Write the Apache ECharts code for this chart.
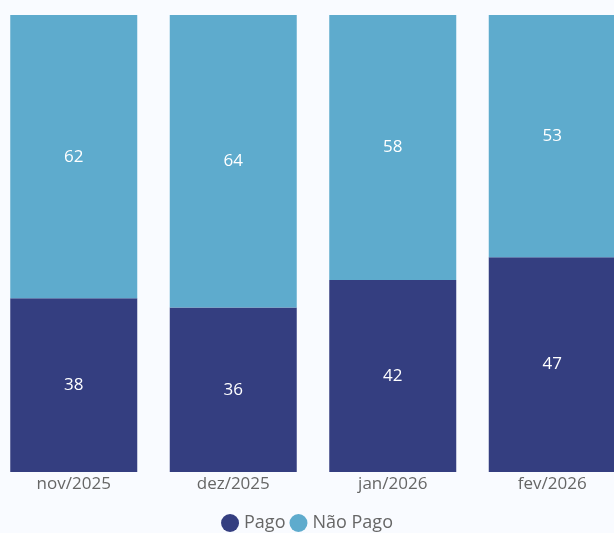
<!DOCTYPE html>
<html><head><meta charset="utf-8">
<script src="https://cdn.jsdelivr.net/npm/echarts@6/dist/echarts.min.js"></script>
<style>html,body{margin:0;padding:0;background:#f9fbff;}#c{width:614px;height:533px;}</style>
</head><body><div id="c"></div>
<script>
const categories = ['nov/2025','dez/2025','jan/2026','fev/2026'];
const pago = [38, 36, 42, 47];
const naoPago = [62, 64, 58, 53];
const chart = echarts.init(document.getElementById('c'));
const lbl = {show:true, position:'inside', color:'#ffffff', fontSize:17, fontFamily:'Open Sans'};
chart.setOption({
  backgroundColor:'#f9fbff',
  animation:false,
  grid:{left:-6, right:-18, top:15, bottom:61, containLabel:false, outerBoundsMode:'none'},
  legend:{top:509, left:'center', icon:'circle', itemWidth:18, itemHeight:18, itemGap:4,
    textStyle:{color:'#666', fontSize:18, fontFamily:'Open Sans'}, data:['Pago','Não Pago']},
  xAxis:{type:'category', data:categories, axisLine:{show:false}, axisTick:{show:false},
    axisLabel:{color:'#666', fontSize:17, fontFamily:'Open Sans', margin:4}},
  yAxis:{type:'value', min:0, max:100, show:false, splitLine:{show:false}},
  series:[
    {name:'Pago', type:'bar', stack:'t', data:pago, barWidth:127, itemStyle:{color:'#343e80'}, label:lbl},
    {name:'Não Pago', type:'bar', stack:'t', data:naoPago, barWidth:127, itemStyle:{color:'#5eabcd'}, label:lbl}
  ]
});
</script></body></html>
